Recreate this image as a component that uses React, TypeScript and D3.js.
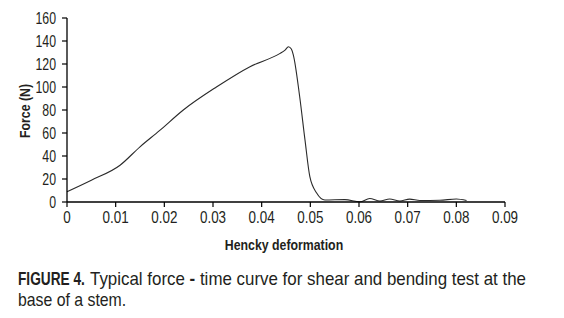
import React from "react";
import * as d3 from "d3";

const deformation = [0, 0.005, 0.0109, 0.015, 0.019, 0.0239, 0.0307, 0.0376, 0.0437, 0.0448, 0.0455, 0.0461, 0.0465, 0.0478, 0.0489, 0.0499, 0.0513, 0.053, 0.0571, 0.0602, 0.0622, 0.0643, 0.0663, 0.0684, 0.0704, 0.0725, 0.0766, 0.08, 0.0821];
const force = [9, 19, 32, 48, 62, 80, 100, 117.7, 129, 132, 135, 133, 128, 92, 54, 22, 7.8, 1.7, 2.1, 0.2, 3, 0.9, 2.6, 0.9, 2.5, 1.3, 1.5, 2.6, 1.3];
const xTicks = [0, 0.01, 0.02, 0.03, 0.04, 0.05, 0.06, 0.07, 0.08, 0.09];
const yTicks = [0, 20, 40, 60, 80, 100, 120, 140, 160];
const xTitle = "Hencky deformation";
const yTitle = "Force (N)";
const captionBold = "FIGURE 4.";
const captionLine1 = "Typical force ";
const captionDash = "-";
const captionLine1b = " time curve for shear and bending test at the";
const captionLine2 = "base of a stem.";

const FONT = "'Liberation Sans', Arial, sans-serif";
const TXT = "#231f20";

function CText(props: { x: number; y: number; sx: number; rotate?: number; children: React.ReactNode; [k: string]: any }) {
  const { x, y, sx, rotate = 0, children, ...rest } = props;
  return (
    <text transform={`translate(${x},${y}) rotate(${rotate}) scale(${sx},1)`} fill={TXT} {...rest}>
      {children}
    </text>
  );
}

export default function App() {
  const x = d3.scaleLinear().domain([0, 0.09]).range([67, 505]);
  const y = d3.scaleLinear().domain([0, 160]).range([202, 18]);
  const pts: [number, number][] = deformation.map((d, i) => [d, force[i]]);
  const line = d3
    .line<[number, number]>()
    .x((d) => x(d[0]))
    .y((d) => y(d[1]))
    .curve(d3.curveMonotoneX);
  const fmt = (v: number) => (v === 0 ? "0" : v.toFixed(2));
  return (
    <svg width={564} height={318} style={{ position: "absolute", left: 0, top: 0, background: "#fff" }} fontFamily={FONT}>
      <rect width={564} height={318} fill="#fff" />
      <path d={line(pts) || ""} fill="none" stroke="#2a2a2a" strokeWidth={1.1} />
      <line x1={x(0)} x2={x(0.09)} y1={y(0)} y2={y(0)} stroke="#000" strokeWidth={1.3} />
      <line x1={x(0)} x2={x(0)} y1={y(0)} y2={y(160)} stroke="#000" strokeWidth={1.3} />
      {yTicks.map((t) => (
        <g key={"y" + t}>
          <line x1={x(0) - 5} x2={x(0)} y1={y(t)} y2={y(t)} stroke="#000" strokeWidth={1.2} />
          <CText x={x(0) - 11} y={y(t)} sx={0.77} dy="0.36em" textAnchor="end" fontSize={16}>
            {t}
          </CText>
        </g>
      ))}
      {xTicks.map((t) => (
        <g key={"x" + t}>
          <line x1={x(t)} x2={x(t)} y1={y(0)} y2={y(0) + 5} stroke="#000" strokeWidth={1.2} />
          <CText x={x(t)} y={223} sx={0.84} textAnchor="middle" fontSize={16}>
            {fmt(t)}
          </CText>
        </g>
      ))}
      <CText x={284} y={250} sx={0.85} textAnchor="middle" fontSize={14.5} fontWeight="bold">
        {xTitle}
      </CText>
      <CText x={30} y={111} sx={0.85} rotate={-90} textAnchor="middle" fontSize={14.5} fontWeight="bold">
        {yTitle}
      </CText>
      <CText x={18} y={285} sx={0.76} fontSize={18} fontWeight="bold">
        {captionBold}
      </CText>
      <CText x={90} y={285} sx={0.94} fontSize={18}>
        {captionLine1}
        <tspan fontWeight="bold">{captionDash}</tspan>
        {captionLine1b}
      </CText>
      <CText x={18} y={306} sx={0.88} fontSize={18}>
        {captionLine2}
      </CText>
    </svg>
  );
}
